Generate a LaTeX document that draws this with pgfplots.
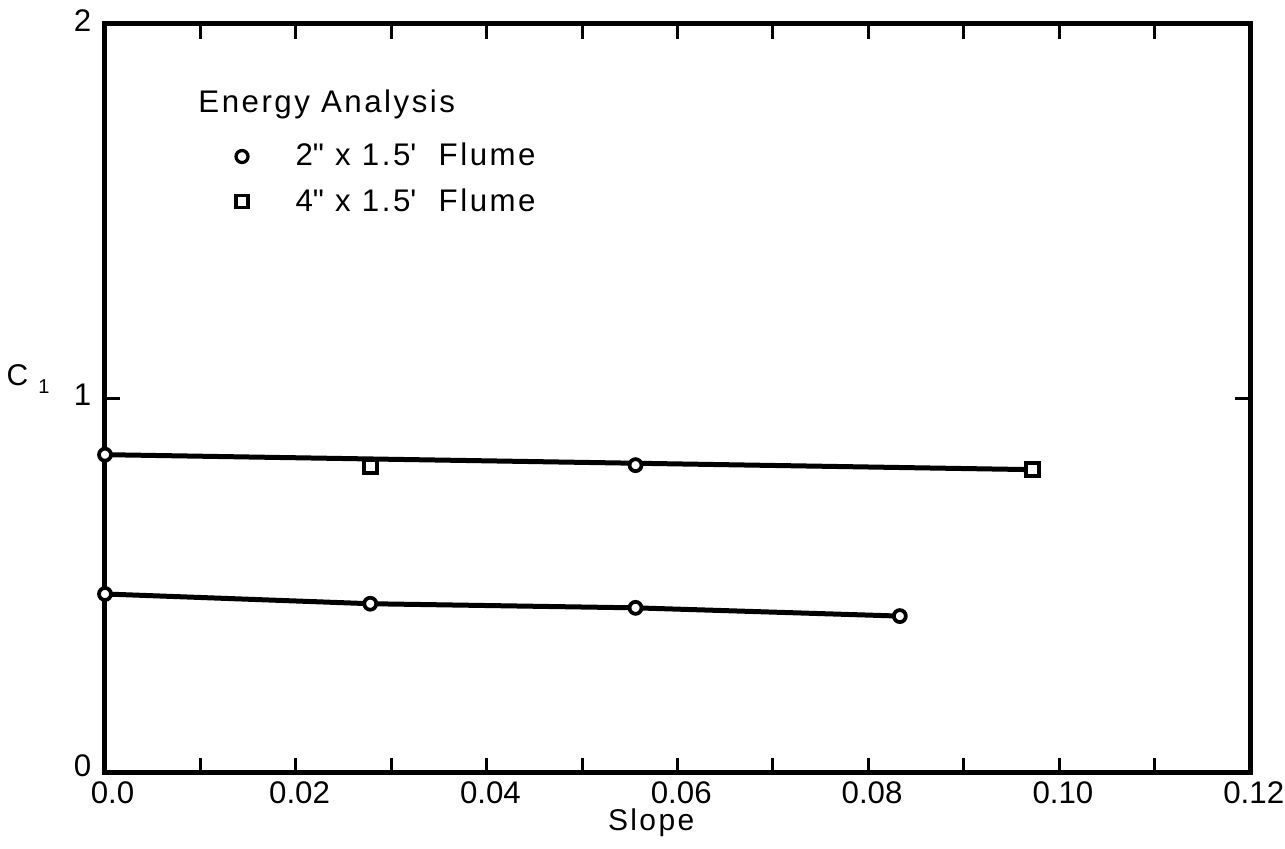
\documentclass[border=0pt]{standalone}
\usepackage{fontspec}
\setmainfont{Liberation Sans}
\newfontfamily\wide{Liberation Sans}[LetterSpace=8]
\usepackage{pgfplots}
\pgfplotsset{compat=1.18}
\begin{document}
\begin{tikzpicture}
\useasboundingbox (-42pt,-30.4pt) rectangle (472pt,309.2pt);
\begin{axis}[
  width=458pt, height=299.6pt, scale only axis,
  xmin=0, xmax=0.12, ymin=0, ymax=2,
  clip=false,
  axis line style={line width=2pt},
  xtick={0,0.02,0.04,0.06,0.08,0.10,0.12},
  xticklabels={\hspace{3pt}0.0,0.02,0.04,0.06,0.08,0.10,0.12},
  minor xtick={0.01,0.03,0.05,0.07,0.09,0.11},
  ytick={0,1,2},
  yticklabels={\raisebox{3pt}{0},1,2},
  tick align=inside,
  major tick length=6pt, minor tick length=6pt,
  every tick/.style={black, line width=1.2pt},
  tick label style={font=\fontsize{12.5}{14}\selectfont},
  xticklabel style={xshift=1.5pt},
  yticklabel style={yshift=1.5pt, xshift=-2pt},
  /pgf/number format/assume math mode=true,
  xlabel={Slope},
  xlabel style={font=\wide\fontsize{12}{14}\selectfont, at={(axis description cs:0.477,0)}, anchor=center, yshift=-20pt},
  legend style={draw=none, fill=none, inner sep=0pt, at={(rel axis cs:0.114,0.848)}, anchor=north west,
    cells={anchor=west}, font=\wide\fontsize{12.5}{15}\selectfont, row sep=3.5pt,
    /tikz/every odd column/.append style={column sep=17pt}},
]
% lower series (2" x 1.5' flume)
\addplot[black, line width=2pt, mark=*, mark size=2.4pt,
  mark options={fill=white, draw=black, line width=1.5pt}, forget plot]
  coordinates {(0,0.478) (0.0278,0.452) (0.0556,0.441) (0.0833,0.419)};
% upper series: fitted line and measured points
\addplot[black, line width=2pt, forget plot]
  coordinates {(0,0.850) (0.0972,0.810)};
\addplot[only marks, mark=*, mark size=2.4pt,
  mark options={fill=white, draw=black, line width=1.5pt}, forget plot]
  coordinates {(0,0.850) (0.0556,0.822)};
\addplot[only marks, mark=square*, mark size=2.7pt,
  mark options={fill=white, draw=black, line width=1.6pt, rounded corners=1pt}, forget plot]
  coordinates {(0.0278,0.818) (0.0972,0.810)};
% legend
\addlegendimage{only marks, mark=o, mark size=2.4pt, mark options={draw=black, line width=1.3pt}}
\addlegendentry{2\textquotedbl\ x 1.5\textquotesingle\ \ Flume}
\addlegendimage{only marks, mark=square, mark size=2.4pt, mark options={draw=black, line width=1.4pt}}
\addlegendentry{4\textquotedbl\ x 1.5\textquotesingle\ \ Flume}
\node[anchor=west, inner sep=0pt, font=\wide\fontsize{12.5}{15}\selectfont] at (rel axis cs:0.0812,0.893) {Energy Analysis};
\node[anchor=center, inner sep=0pt, font=\fontsize{12}{14}\selectfont] at (rel axis cs:-0.0672,0.526) {C\hspace{4pt}\raisebox{-0.45ex}{\fontsize{8}{10}\selectfont 1}};
\end{axis}
\end{tikzpicture}
\end{document}
